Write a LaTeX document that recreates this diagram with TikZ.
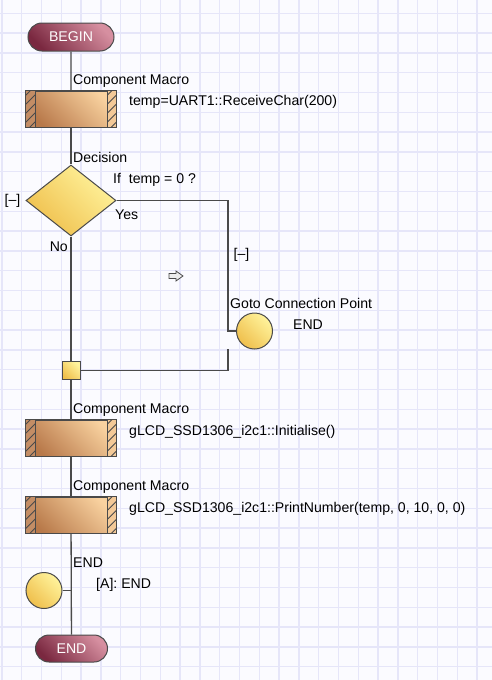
\documentclass[tikz,border=0pt]{standalone}
\usepackage{fontspec}
\setmainfont{Liberation Sans}
\usepackage{tikz}
\usetikzlibrary{calc}
\usetikzlibrary{positioning}
\usetikzlibrary{shapes.geometric}
\usetikzlibrary{shapes.misc}

\definecolor{paper}{HTML}{FBFBFF}
\definecolor{gridline}{HTML}{E6E6F9}
\definecolor{linegray}{HTML}{4A4A4A}
\definecolor{termdark}{HTML}{7A2840}
\definecolor{termlight}{HTML}{D68FA0}
\definecolor{macrodark}{HTML}{B8794A}
\definecolor{macrolight}{HTML}{F9D2A0}
\definecolor{yellowdark}{HTML}{EFBF4C}
\definecolor{yellowlight}{HTML}{FFF39C}

\tikzset{
	flow/.style={draw=linegray, line width=1.3pt},
	term/.style={rounded rectangle, draw=linegray, line width=1pt, bottom color=termdark, top color=termlight, shading angle=-45, text=white, inner sep=0pt},
	macro/.style={rectangle, draw=linegray, line width=1pt, bottom color=macrodark, top color=macrolight, shading angle=-45, minimum width=90pt, minimum height=36pt, inner sep=0pt},
	decision/.style={diamond, draw=linegray, line width=1pt, bottom color=yellowdark, top color=yellowlight, shading angle=-45, minimum width=90pt, minimum height=71pt, inner sep=0pt},
	joint/.style={rectangle, draw=linegray, line width=1pt, bottom color=yellowdark, top color=yellowlight, shading angle=-45, minimum size=18pt, inner sep=0pt},
	point/.style={circle, draw=linegray, line width=1pt, bottom color=yellowdark, top color=yellowlight, shading angle=-45, minimum size=36pt, inner sep=0pt},
	txt/.style={anchor=west, inner sep=0pt},
}

% hatched end caps of a component macro box
\newcommand{\macrocaps}[1]{%
	\begin{scope}
		\clip (#1.north west) rectangle ($(#1.south west)+(9.5,0)$);
		\fill[macrodark!85!white] (#1.north west) rectangle ($(#1.south west)+(9.5,0)$);
		\foreach \k in {0,...,4}
			\draw[linegray, line width=0.8pt] ($(#1.south west)+(0,{4-9*\k})$) -- ++(10,-10);
	\end{scope}
	\begin{scope}
		\clip ($(#1.north east)+(-9.5,0)$) rectangle (#1.south east);
		\fill[macrolight!90!macrodark] ($(#1.north east)+(-9.5,0)$) rectangle (#1.south east);
		\foreach \k in {0,...,4}
			\draw[linegray, line width=0.8pt] ($(#1.south east)+(-9.5,{4-9*\k})$) -- ++(10,-10);
	\end{scope}
	\draw[linegray, line width=1pt] (#1.north west) rectangle (#1.south east);
	\draw[linegray, line width=1pt] ($(#1.north west)+(9.5,0)$) -- ($(#1.south west)+(9.5,0)$);
	\draw[linegray, line width=1pt] ($(#1.north east)+(-9.5,0)$) -- ($(#1.south east)+(-9.5,0)$);
}

\begin{document}
\begin{tikzpicture}[x=1pt, y=-1pt, every node/.style={font=\fontsize{14.1}{16}\selectfont}]
		\useasboundingbox (0,0) rectangle (492,680);
		\fill[paper] (0,0) rectangle (492,680);
		\foreach \i in {0,...,24}
			\draw[gridline, line width=1.3pt] ({1.9+19.8*\i},0) -- ({1.9+19.8*\i},680);
		\foreach \j in {1,...,34}
			\draw[gridline, line width=1.3pt] (0,{-6.5+19.8*\j}) -- (492,{-6.5+19.8*\j});

		% flow nodes
		\node[term, minimum width=86pt, minimum height=28pt] (begin) at (71,37) {BEGIN};
		\node[macro] (cm1) at (71,109) {};
		\node[decision] (dec) at (71,200.5) {};
		\node[joint] (join) at (71,370.5) {};
		\node[point] (gotoEnd) at (254.5,331) {};
		\node[macro] (cm2) at (71,438) {};
		\node[macro] (cm3) at (71,515.3) {};
		\node[point] (pointA) at (44,590.5) {};
		\node[term, minimum width=72pt, minimum height=27pt] (end) at (71.5,648.5) {END};
		\coordinate (yesTurn) at (228,200.5);
		\coordinate (yesOut) at (228,349);

		\draw[flow] (begin) -- (cm1);
		\draw[flow] (cm1) -- (dec);
		\draw[flow] (dec) -- (join);
		\draw[flow] (join) -- (cm2);
		\draw[flow] (cm2) -- (cm3);
		\draw[flow] (cm3) -- (end);
		\draw[flow] (dec.east) -- (yesTurn) |- (gotoEnd.west);
		\draw[flow] (yesOut) |- (join.east);
		\draw[flow] (pointA.east) -- (pointA.east -| cm3.south);

		\macrocaps{cm1}
		\macrocaps{cm2}
		\macrocaps{cm3}

		% texts
		\node[txt] (cm1Title) at (73,81) {Component Macro};
		\node[txt] (cm1Call) at (129,102) {temp=UART1::ReceiveChar(200)};
		\node[txt] (decTitle) at (73,157) {Decision};
		\node[txt] (decCond) at (113,180) {If\ \ temp = 0 ?};
		\node[txt] (yesTag) at (115,215) {Yes};
		\node[anchor=east, inner sep=0pt] (noTag) at (68,247) {No};
		\node (decFold) at (12.5,201) {[\textendash]};
		\node (yesFold) at (241.5,255) {[\textendash]};
		\node[txt] (gotoTitle) at (230,303) {Goto Connection Point};
		\node (gotoName) at (308,325) {END};
		\node[txt] (cm2Title) at (73,410) {Component Macro};
		\node[txt] (cm2Call) at (129,432) {gLCD\_SSD1306\_i2c1::Initialise()};
		\node[txt] (cm3Title) at (73,487) {Component Macro};
		\node[txt] (cm3Call) at (129,509) {gLCD\_SSD1306\_i2c1::PrintNumber(temp, 0, 10, 0, 0)};
		\node[txt] (pointTitle) at (73,563) {END};
		\node[txt] (pointName) at (96,585) {[A]: END};

		% cursor arrow
		\draw[linegray, fill=gray!15, line width=0.8pt] (169,273.5) -- (176,273.5) -- (176,271) -- (183,276) -- (176,281) -- (176,278.5) -- (169,278.5) -- cycle;
	\end{tikzpicture}
\end{document}
